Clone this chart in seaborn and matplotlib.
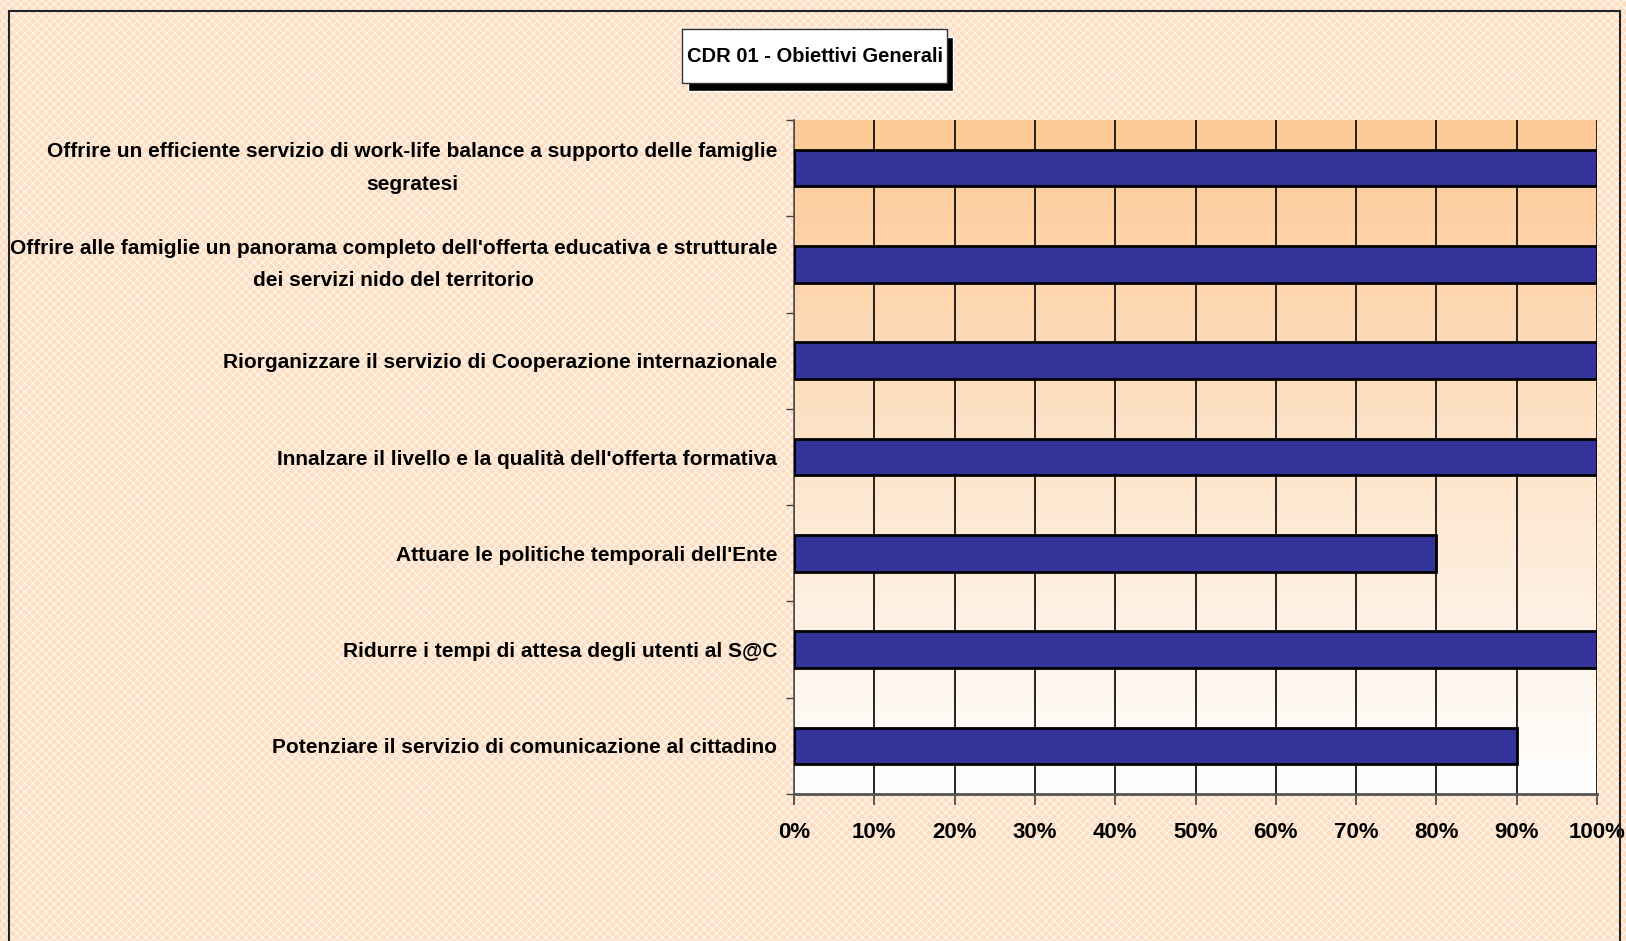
import numpy as np
import pandas as pd
import matplotlib
matplotlib.use("Agg")
import matplotlib.pyplot as plt
import matplotlib.patches as mpatches
from matplotlib.ticker import PercentFormatter
import seaborn as sns

categories = [
    "Offrire un efficiente servizio di work-life balance a supporto delle famiglie\nsegratesi",
    "Offrire alle famiglie un panorama completo dell'offerta educativa e strutturale\ndei servizi nido del territorio",
    "Riorganizzare il servizio di Cooperazione internazionale",
    "Innalzare il livello e la qualità dell'offerta formativa",
    "Attuare le politiche temporali dell'Ente",
    "Ridurre i tempi di attesa degli utenti al S@C",
    "Potenziare il servizio di comunicazione al cittadino",
]
completion = [100, 100, 100, 100, 80, 100, 90]
x_ticks = [0, 10, 20, 30, 40, 50, 60, 70, 80, 90, 100]
title = "CDR 01 - Obiettivi Generali"

df = pd.DataFrame({"obiettivo": categories, "avanzamento": completion})

sns.set_theme(style="white")
plt.rcParams["font.family"] = ["Liberation Sans", "DejaVu Sans"]

W, H = 1626, 941
fig = plt.figure(figsize=(W / 100, H / 100), dpi=100)
fig.patch.set_facecolor("#FCE3CC")

# textured peach background
bg = mpatches.Rectangle((0, 0), 1, 1, transform=fig.transFigure, facecolor="#FCDDC0",
                        edgecolor="#FFF3E8", hatch="xxxx", linewidth=0, zorder=-10)
fig.patches.append(bg)
# outer frame
frame = mpatches.Rectangle((9 / W, -0.02), (1620 - 9) / W, 1.02 - 11 / H,
                           transform=fig.transFigure, fill=False, edgecolor="#222222",
                           linewidth=1.5, zorder=5)
fig.patches.append(frame)

ax = fig.add_axes([794 / W, 1 - 794 / H, (1597 - 794) / W, (794 - 120) / H])

# vertical orange-to-white gradient inside the plotting area
grad = np.linspace(0, 1, 256).reshape(-1, 1)
top = np.array([253, 201, 149]) / 255
bot = np.array([255, 255, 255]) / 255
img = top[None, None, :] * (1 - grad[..., None]) + bot[None, None, :] * grad[..., None]
ax.imshow(img, extent=[0, 1, 0, 1], transform=ax.transAxes, aspect="auto", zorder=0)

sns.barplot(data=df, y="obiettivo", x="avanzamento", orient="h", color="#333399",
            saturation=1, width=0.38, edgecolor="black", linewidth=2, ax=ax, zorder=3)

ax.set_xlim(0, 100)
ax.set_ylim(6.5, -0.5)
ax.set_xticks(x_ticks)
ax.xaxis.set_major_formatter(PercentFormatter(decimals=0))
ax.grid(axis="x", color="black", linewidth=1.2, zorder=1)
ax.set_axisbelow(True)
ax.set_xlabel("")
ax.set_ylabel("")

for side in ["top", "right"]:
    ax.spines[side].set_visible(False)
ax.spines["left"].set_color("#555555")
ax.spines["bottom"].set_color("#555555")
ax.spines["bottom"].set_linewidth(2)
ax.spines["left"].set_linewidth(1.2)

# category separators as minor ticks on the y axis
ax.set_yticks(np.arange(-0.5, 7, 1), minor=True)
ax.tick_params(axis="y", which="minor", length=6, color="#444444", left=True)
ax.tick_params(axis="y", which="major", length=0, pad=12)
ax.tick_params(axis="x", which="major", length=8, color="#444444", bottom=True, pad=12)

for lbl in ax.get_yticklabels():
    lbl.set_fontsize(15)
    lbl.set_fontweight("bold")
    lbl.set_multialignment("center")
    lbl.set_linespacing(1.9)
    lbl.set_color("black")
    if "\n" in lbl.get_text():
        lbl.set_verticalalignment("center")
for lbl in ax.get_xticklabels():
    lbl.set_fontsize(16)
    lbl.set_fontweight("bold")
    lbl.set_color("black")

# title box with drop shadow
bx0, bx1, by0, by1 = 682, 947, 29, 83
shadow = mpatches.Rectangle(((bx0 + 6) / W, 1 - (by1 + 8) / H), (bx1 - bx0) / W, (by1 - by0) / H,
                            transform=fig.transFigure, facecolor="black", zorder=6)
box = mpatches.Rectangle((bx0 / W, 1 - by1 / H), (bx1 - bx0) / W, (by1 - by0) / H,
                         transform=fig.transFigure, facecolor="white", edgecolor="#333333",
                         linewidth=1, zorder=7)
fig.patches.extend([shadow, box])
fig.text((bx0 + bx1) / 2 / W, 1 - (by0 + by1) / 2 / H, title, ha="center", va="center",
         fontsize=14.5, fontweight="bold", color="black", zorder=8)

fig.savefig("out.png", dpi=100, facecolor=fig.get_facecolor())
